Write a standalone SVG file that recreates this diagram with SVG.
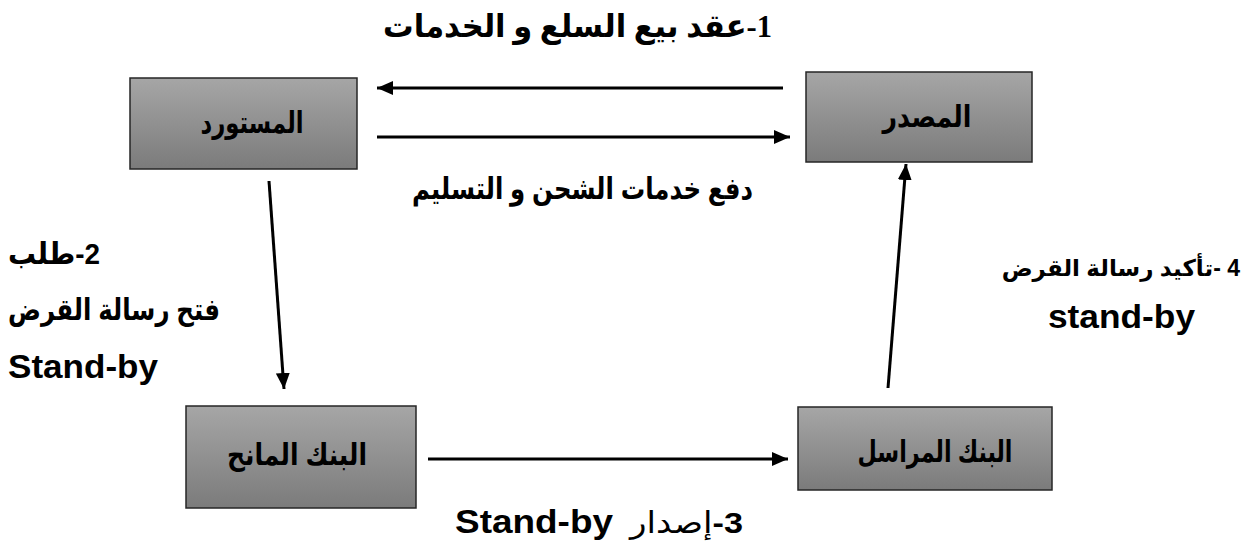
<svg xmlns="http://www.w3.org/2000/svg" width="1252" height="546" viewBox="0 0 1252 546">
  <style>
    .box { fill: url(#boxFill); stroke: #262626; stroke-width: 1.5; }
    .node-label { font-family: "Liberation Sans", "DejaVu Sans", sans-serif; font-weight: bold; font-size: 30px; fill: #000; text-anchor: middle; }
    .lbl { font-family: "Liberation Sans", "DejaVu Sans", sans-serif; font-weight: bold; font-size: 30px; fill: #000; }
    .lbl-small { font-size: 23px; }
    .latin { font-family: "Liberation Sans", sans-serif; font-weight: bold; font-size: 33px; fill: #000; }
    .lbl-serif { font-family: "Liberation Serif", "DejaVu Sans", serif; font-weight: bold; font-size: 32px; fill: #000; }
    .reg { font-weight: normal; }
    .conn { stroke: #000; stroke-width: 3; fill: none; marker-end: url(#head); }
  </style>
  <defs>
    <linearGradient id="boxFill" x1="0" y1="0" x2="0" y2="1">
      <stop offset="0" stop-color="#a6a6a6"/>
      <stop offset="1" stop-color="#7b7b7b"/>
    </linearGradient>
    <marker id="head" markerUnits="userSpaceOnUse" markerWidth="18" markerHeight="16" refX="16" refY="7" orient="auto">
      <path d="M0,0 L16,7 L0,14 Z" fill="#000"/>
    </marker>
  </defs>

  <rect width="1252" height="546" fill="#fff"/>

  <!-- connectors -->
  <g id="connectors">
    <line class="conn" x1="783" y1="88" x2="377" y2="88"/>
    <line class="conn" x1="377" y1="137" x2="790" y2="137"/>
    <line class="conn" x1="269" y1="181" x2="284" y2="389"/>
    <line class="conn" x1="888" y1="388" x2="906" y2="164"/>
    <line class="conn" x1="428" y1="459" x2="788" y2="459"/>
  </g>

  <!-- nodes -->
  <g id="importer">
    <rect class="box" x="130" y="78" width="227" height="91"/>
    <text class="node-label" x="252" y="133" direction="rtl" textLength="103" lengthAdjust="spacingAndGlyphs">المستورد</text>
  </g>
  <g id="exporter">
    <rect class="box" x="806" y="72" width="226" height="90"/>
    <text class="node-label" x="927" y="127" direction="rtl" textLength="89" lengthAdjust="spacingAndGlyphs">المصدر</text>
  </g>
  <g id="issuing-bank">
    <rect class="box" x="186" y="406" width="230" height="102"/>
    <text class="node-label" x="297" y="465" direction="rtl" textLength="140" lengthAdjust="spacingAndGlyphs">البنك المانح</text>
  </g>
  <g id="correspondent-bank">
    <rect class="box" x="798" y="407" width="254" height="83"/>
    <text class="node-label" x="935" y="462" direction="rtl" textLength="155" lengthAdjust="spacingAndGlyphs">البنك المراسل</text>
  </g>

  <!-- edge labels -->
  <g id="labels">
    <text class="lbl-serif" x="772" y="37" direction="rtl" text-anchor="start" textLength="389" lengthAdjust="spacingAndGlyphs">1-عقد بيع السلع و الخدمات</text>
    <text class="lbl" x="753" y="199" direction="rtl" text-anchor="start" textLength="341" lengthAdjust="spacingAndGlyphs">دفع خدمات الشحن و التسليم</text>

    <text class="lbl" x="100" y="264" direction="rtl" text-anchor="start" textLength="92" lengthAdjust="spacingAndGlyphs">2-طلب</text>
    <text class="lbl" x="220" y="320" direction="rtl" text-anchor="start" textLength="212" lengthAdjust="spacingAndGlyphs">فتح رسالة القرض</text>
    <text class="latin" x="8" y="378" textLength="150" lengthAdjust="spacingAndGlyphs">Stand-by</text>

    <text class="lbl lbl-small" x="1240" y="276" direction="rtl" text-anchor="start">4 -تأكيد رسالة القرض</text>
    <text class="latin" x="1048" y="328" textLength="147" lengthAdjust="spacingAndGlyphs">stand-by</text>

    <text class="latin" x="455" y="533" textLength="158" lengthAdjust="spacingAndGlyphs">Stand-by</text>
    <text class="lbl" x="743" y="533" direction="rtl" text-anchor="start" textLength="113" lengthAdjust="spacingAndGlyphs">3-<tspan class="reg">إصدار</tspan></text>
  </g>
</svg>
